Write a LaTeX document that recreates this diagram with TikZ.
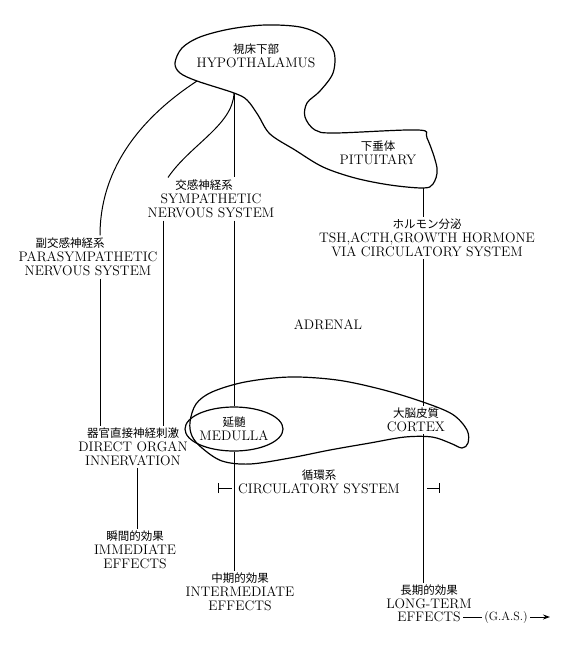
\documentclass[tikz,border=0pt]{standalone}
\usepackage{fontspec}
\newfontfamily\jpfont{Noto Sans CJK JP}
\usetikzlibrary{arrows.meta,shapes.geometric}
\newcommand\jp[1]{{\jpfont\fontsize{11.5}{14}\selectfont #1}}
\begin{document}
\begin{tikzpicture}[x=1pt,y=-1pt,line width=1pt,
  lbl/.style={align=center,inner sep=2pt,font=\fontsize{13.8}{14}\selectfont},
  blob/.style={line width=1.2pt}]
\useasboundingbox[fill=white] (0,0) rectangle (583,656);
% hypothalamus + pituitary outline
\draw[blob] plot[smooth cycle,tension=0.55] coordinates {
 (175,63) (182,48) (200,37) (230,29) (265,25) (300,27) (322,36) (334,52)
 (333,73) (320,91) (307,103) (305,117) (315,130) (335,133) (418,130)
 (427,138) (437,168) (433,184) (423,188) (390,185) (355,178) (323,167)
 (295,150) (270,134) (258,115) (247,100) (234,93) (197,81) (180,73)};
% adrenal outline
\draw[blob] plot[smooth cycle,tension=0.55] coordinates {
 (190,422) (196,404) (212,392) (245,382) (290,377) (337,380) (380,389)
 (420,401) (452,414) (467,430) (468,443) (462,448) (450,443) (432,437)
 (405,437) (370,443) (330,450) (290,458) (250,464) (222,461) (202,448)
 (192,436)};
% labels
\node[lbl] (hypo) at (256,56) {\jp{視床下部}\\HYPOTHALAMUS};
\node[lbl] (pit) at (378,153) {\jp{下垂体}\\PITUITARY};
\node[lbl] (symp) at (211,199) {\jp{交感神経系}\hspace*{14pt}\mbox{}\\SYMPATHETIC\\NERVOUS SYSTEM};
\node[lbl] (para) at (88,257) {\jp{副交感神経系}\hspace*{36pt}\mbox{}\\PARASYMPATHETIC\\NERVOUS SYSTEM};
\node[lbl] (horm) at (427,238) {\jp{ホルモン分泌}\\TSH,ACTH,GROWTH HORMONE\\VIA CIRCULATORY SYSTEM};
\node[lbl] (adr) at (328,325) {ADRENAL};
\node[lbl,draw,blob,ellipse,minimum width=98pt,minimum height=44pt,inner sep=0pt] (med) at (234,429) {\jp{延髄}\\MEDULLA};
\node[lbl] (cort) at (416,420) {\jp{大脳皮質}\\CORTEX};
\node[lbl] (circ) at (319,482) {\jp{循環系}\\CIRCULATORY SYSTEM};
\node[lbl] (dir) at (133,447) {\jp{器官直接神経刺激}\\DIRECT ORGAN\\INNERVATION};
\node[lbl] (imm) at (135,550) {\jp{瞬間的効果}\\IMMEDIATE\\EFFECTS};
\node[lbl] (inter) at (240,592) {\jp{中期的効果}\\INTERMEDIATE\\EFFECTS};
\node[lbl] (lt) at (429,597) {\jp{長期的効果}\\LONG-TERM};
\node[lbl] (lteff) at (429,617) {EFFECTS};
\node[lbl,font=\fontsize{12}{14}\selectfont] (gas) at (506,617) {(G.A.S.)};
% coordinates
\coordinate (hpA) at (197,81);
\coordinate (hmid) at (234,93);
\coordinate (px) at (100,0);
\coordinate (sx) at (168,0);
\coordinate (sy) at (163,0);
\coordinate (dx) at (137,0);
\coordinate (pb) at (423,188);
\coordinate (cbl1) at (218,488);
\coordinate (cbl2) at (232,488);
\coordinate (cbr1) at (427,488);
\coordinate (cbr2) at (440,488);
\coordinate (gasend) at (550,617);
% connectors
\draw (hpA) .. controls (145,115) and (100,165) .. (para.north -| px);
\draw (para.south -| px) -- (dir.north -| px);
\draw (hmid) .. controls (233,125) and (190,145) .. (symp.north -| sx);
\draw (symp.south -| sy) -- (dir.north -| sy);
\draw (hmid) -- (symp.north -| hmid);
\draw (symp.south -| hmid) -- (med.north);
\draw (med.south) -- (inter.north -| med.south);
\draw (dir.south -| dx) -- (imm.north -| dx);
\draw (pb) -- (horm.north -| pb);
\draw (horm.south -| pb) -- (cort.north -| pb);
\draw (cort.south -| pb) -- (lt.north -| pb);
\draw[{Bar[width=10pt]}-] (cbl1) -- (cbl2);
\draw[-{Bar[width=10pt]}] (cbr1) -- (cbr2);
\draw (lteff.east) -- (gas.west);
\draw[-{Stealth[length=7pt,width=5pt]}] (gas.east) -- (gasend);
\end{tikzpicture}
\end{document}
